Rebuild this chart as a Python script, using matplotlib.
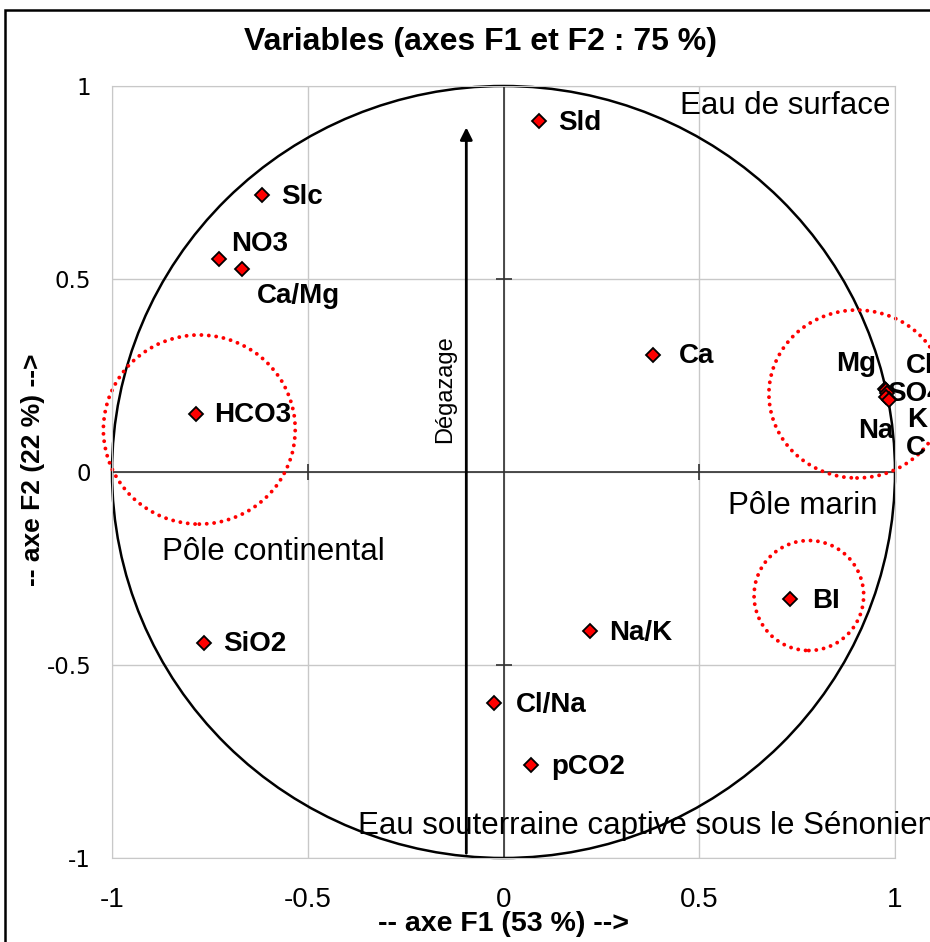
import numpy as np
import matplotlib.pyplot as plt
from matplotlib.patches import Circle, Ellipse, Rectangle

# variable coordinates on F1 / F2
names = ['Sld', 'Slc', 'NO3', 'Ca/Mg', 'HCO3', 'Ca', 'Mg', 'Cl', 'SO4', 'K', 'Na', 'C',
         'BI', 'Na/K', 'SiO2', 'Cl/Na', 'pCO2']
f1 = [0.09, -0.616, -0.726, -0.668, -0.785, 0.381, 0.974, 0.978, 0.980, 0.984, 0.976, 0.985,
      0.731, 0.222, -0.765, -0.023, 0.069]
f2 = [0.91, 0.718, 0.552, 0.526, 0.150, 0.303, 0.215, 0.212, 0.205, 0.190, 0.195, 0.187,
      -0.329, -0.412, -0.443, -0.598, -0.759]
# label offsets (pixels) and alignment
offs = [(19, -2), (19, -2), (12, 15), (15, -27), (18, -1), (26, -1), (-9, 25), (19, 24), (0, -1),
        (18, -21), (8, -34), (17, -48), (22, -2), (19, -2), (19, -1), (21, -2), (21, -2)]
has = ['left'] * 6 + ['right', 'left', 'left', 'left', 'right', 'left'] + ['left'] * 5

ticks = [-1, -0.5, 0, 0.5, 1]
tick_lbl = ['-1', '-0.5', '0', '0.5', '1']

plt.rcParams['font.family'] = ['Liberation Sans', 'DejaVu Sans']

fig = plt.figure(figsize=(9.3, 9.42), dpi=100)
ax = fig.add_axes([112/930, 84/942, 783/930, 772/942])
ax.set_xlim(-1, 1)
ax.set_ylim(-1, 1)

grey = '#c8c8c8'
for v in ticks:
    ax.axhline(v, color=grey, lw=1, zorder=0)
    ax.axvline(v, color=grey, lw=1, zorder=0)
for s in ax.spines.values():
    s.set_color(grey)

ax.axhline(0, color='#303030', lw=1.2, zorder=1)
ax.axvline(0, color='#303030', lw=1.2, zorder=1)
ax.plot([-0.5, 0.5], [0, 0], ls='none', marker='|', ms=11, mew=1.2, color='#303030')
ax.plot([0, 0], [-0.5, 0.5], ls='none', marker='_', ms=11, mew=1.2, color='#303030')

ax.set_xticks(ticks)
ax.set_yticks(ticks)
ax.set_xticklabels(tick_lbl, fontsize=20)
ax.set_yticklabels(tick_lbl, fontsize=16.5, family='DejaVu Sans')
ax.tick_params(length=0)
ax.tick_params(axis='x', pad=21)
ax.tick_params(axis='y', pad=15)

ax.add_patch(Circle((0, 0), 1, fill=False, ec='black', lw=1.8, clip_on=False))

# red dotted groups
for c, w, h in [((-0.777, 0.11), 0.49, 0.49), ((0.903, 0.202), 0.45, 0.435), ((0.78, -0.32), 0.28, 0.285)]:
    ax.add_patch(Ellipse(c, w, h, fill=False, ec='red', lw=2.8, ls=(0, (0.01, 1.9)),
                         capstyle='round', clip_on=False, zorder=2))

ax.annotate('', xy=(-0.095, 0.9), xytext=(-0.095, -0.995),
            arrowprops=dict(arrowstyle='-|>', lw=2, color='black', mutation_scale=18))
ax.text(-0.15, 0.215, 'Dégazage', rotation=90, ha='center', va='center', fontsize=17)

ax.plot(f1, f2, ls='none', marker='D', ms=7.5, mfc='red', mec='black', mew=1.3, zorder=4,
        clip_on=False)
for n, x, y, o, ha in zip(names, f1, f2, offs, has):
    ax.annotate(n, (x, y), xytext=o, textcoords='offset pixels', ha=ha, va='center',
                fontsize=20, fontweight='bold', annotation_clip=False)

ax.text(0.72, 0.948, 'Eau de surface', ha='center', va='center', fontsize=22.5)
ax.text(0.765, -0.088, 'Pôle marin', ha='center', va='center', fontsize=22.5)
ax.text(-0.588, -0.207, 'Pôle continental', ha='center', va='center', fontsize=22.5)
ax.text(-0.371, -0.917, 'Eau souterraine captive sous le Sénonien', ha='left', va='center',
        fontsize=22.5, clip_on=False)

fig.text(480/930, 1 - 42/942, 'Variables (axes F1 et F2 : 75 %)', ha='center', va='center',
         fontsize=23, fontweight='bold')
fig.text(503/930, 1 - 924/942, '-- axe F1 (53 %) -->', ha='center', va='center',
         fontsize=20.5, fontweight='bold')
fig.text(33/930, 1 - 470/942, '-- axe F2 (22 %) -->', ha='center', va='center', rotation=90,
         fontsize=19, fontweight='bold')

fig.patches.append(Rectangle((5/930, -0.05), 1.2, 1.05 - 10/942, transform=fig.transFigure,
                             fill=False, ec='black', lw=1.8))

fig.savefig('out.png', dpi=100)
